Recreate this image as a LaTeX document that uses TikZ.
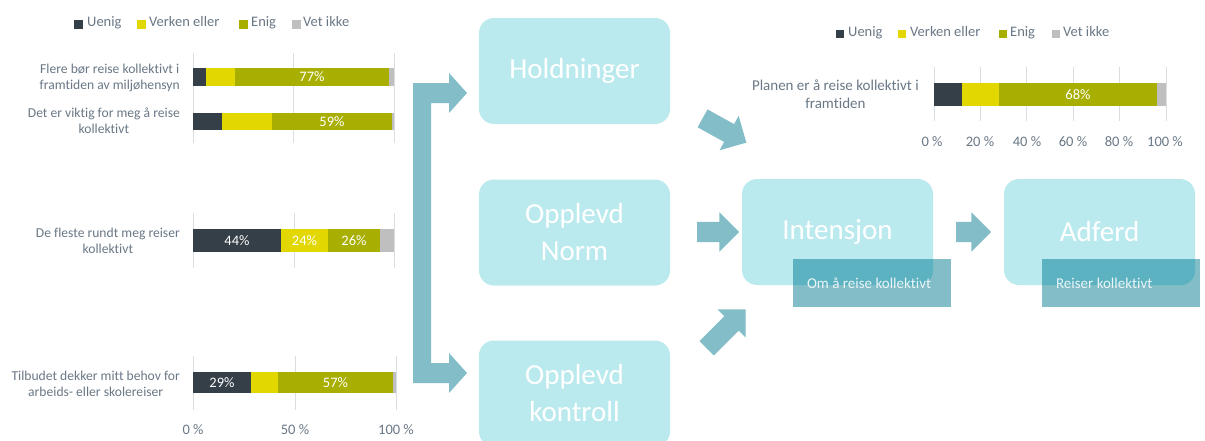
\documentclass[tikz,border=0pt]{standalone}
\usepackage{fontspec}
\setmainfont{Carlito}[Ligatures=NoCommon]
\usepackage{tikz}
\usetikzlibrary{shapes.arrows,positioning}

\definecolor{uenigc}{HTML}{343F48}
\definecolor{verkenc}{HTML}{E2D700}
\definecolor{enigc}{HTML}{A8AF00}
\definecolor{vetc}{HTML}{BFBFBF}
\definecolor{axistext}{HTML}{6A7886}
\definecolor{gridc}{HTML}{D9DEE3}
\definecolor{boxc}{HTML}{BBEAEE}
\definecolor{arrowc}{HTML}{82BDC8}
\definecolor{labeldark}{HTML}{5CB2C0}
\definecolor{labeltext}{HTML}{EAF5F7}

% top, bottom, start, then the right ends of the four parts
\newcommand{\stackbar}[7]{%
  \fill[uenigc] (#3,#1) rectangle (#4,#2);
  \fill[verkenc] (#4,#1) rectangle (#5,#2);
  \fill[enigc] (#5,#1) rectangle (#6,#2);
  \fill[vetc] (#6,#1) rectangle (#7,#2);}

\tikzset{
  cat/.style={font=\fontsize{13.6}{16}\selectfont, text=axistext, align=center, anchor=east, inner sep=0},
  val/.style={font=\fontsize{14.5}{16}\selectfont, text=white, inner sep=0},
  tick/.style={font=\fontsize{14.5}{16}\selectfont, text=axistext, inner sep=0},
  leg/.style={font=\fontsize{14.5}{16}\selectfont, text=axistext, anchor=west, inner sep=0, text height=0.68em, text depth=0.2em},
  legsq/.style={minimum size=8.5, inner sep=0},
  grid line/.style={gridc, line width=1},
  stage/.style={rounded corners=15, fill=boxc, minimum width=191, minimum height=106, inner sep=0,
    text=white, font=\fontsize{29}{37}\selectfont, align=center},
  sublabel/.style={fill=arrowc, minimum width=158, minimum height=48, inner sep=0,
    path picture={\fill[labeldark, rounded corners=15] (#1.south west) rectangle (#1.north east);}},
  subtext/.style={text=labeltext, font=\fontsize{15}{17}\selectfont, inner sep=0, anchor=west},
  blockarrow/.style={single arrow, fill=arrowc, inner xsep=0, inner ysep=10, minimum width=39,
    single arrow head extend=9.5}
}

\begin{document}
\begin{tikzpicture}[x=1pt, y=-1pt]
\clip (0,0) rectangle (1205,440);
\fill[white] (0,0) rectangle (1205,440);

% left chart: legend
\node[legsq, fill=uenigc] (lsq1) at (78.5,24.5) {};
\node[leg] (lleg1) at (87,24.5) {Uenig};
\node[legsq, fill=verkenc] (lsq2) at (141.5,24.5) {};
\node[leg] (lleg2) at (149,24.5) {Verken eller};
\node[legsq, fill=enigc] (lsq3) at (243.5,24.5) {};
\node[leg] (lleg3) at (251,24.5) {Enig};
\node[legsq, fill=vetc] (lsq4) at (296.5,24.5) {};
\node[leg] (lleg4) at (303,24.5) {Vet ikke};

% left chart: grid lines
\foreach \gx in {193,293,394} \draw[grid line] (\gx,53) -- (\gx,143);
\foreach \gx in {193,294,394} \draw[grid line] (\gx,213) -- (\gx,268);
\foreach \gx in {193,295,396} \draw[grid line] (\gx,356) -- (\gx,410);

% left chart: bars
\stackbar{68}{86}{193}{206}{235}{389}{394}
\stackbar{113}{130}{193}{222}{272}{392}{394}
\stackbar{229}{252}{193}{281}{328}{380}{394}
\stackbar{372}{393}{193}{251}{278}{393}{396}

\node[val] (v1) at (312,77) {77\%};
\node[val] (v2) at (332,121.5) {59\%};
\node[val] (v3a) at (237,240.5) {44\%};
\node[val] (v3b) at (304.5,240.5) {24\%};
\node[val] (v3c) at (354,240.5) {26\%};
\node[val] (v4a) at (222,382.5) {29\%};
\node[val] (v4c) at (335.5,382.5) {57\%};

\node[cat] (c1) at (180,77.5) {Flere bør reise kollektivt i\\framtiden av miljøhensyn};
\node[cat] (c2) at (180,121) {Det er viktig for meg å reise\\kollektivt};
\node[cat] (c3) at (180,241) {De fleste rundt meg reiser\\kollektivt};
\node[cat] (c4) at (180,383.5) {Tilbudet dekker mitt behov for\\arbeids- eller skolereiser};

\node[tick] (t0) at (193,430) {0 \%};
\node[tick] (t50) at (295,430) {50 \%};
\node[tick] (t100) at (396,430) {100 \%};

% bracket arrow
\fill[arrowc] (413,83) -- (449,83) -- (449,73) -- (467,93) -- (449,113) -- (449,103)
  -- (431,103) -- (431,363) -- (449,363) -- (449,353) -- (467,373) -- (449,393)
  -- (449,383) -- (413,383) -- cycle;

% stages
\node[stage] (hold) at (574.5,71) {Holdninger};
\node[stage] (norm) at (574.5,232.5) {Opplevd\\Norm};
\node[stage] (kontr) at (574.5,393.5) {Opplevd\\kontroll};
\node[stage] (intens) at (837.5,232) {Intensjon};
\node[stage] (adferd) at (1099.5,232) {Adferd};

\node[sublabel=intens] (omlab) at (872,283) {};
\node[subtext, right=14 of omlab.west] (omtext) {Om å reise kollektivt};
\node[sublabel=adferd] (reiselab) at (1121,283) {};
\node[subtext, right=14 of reiselab.west] (reisetext) {Reiser kollektivt};

% block arrows
\node[blockarrow, minimum height=50, rotate=-29] (a1) at (720,128) {};
\node[blockarrow, minimum height=42] (a2) at (713,232) {};
\node[blockarrow, minimum height=55, rotate=45] (a3) at (722.5,332.5) {};
\node[blockarrow, minimum height=35] (a4) at (968.5,232) {};

% right chart: legend
\node[legsq, fill=uenigc] (rsq1) at (840,34) {};
\node[leg] (rleg1) at (848,34) {Uenig};
\node[legsq, fill=verkenc] (rsq2) at (902,34) {};
\node[leg] (rleg2) at (910,34) {Verken eller};
\node[legsq, fill=enigc] (rsq3) at (1003,34) {};
\node[leg] (rleg3) at (1010,34) {Enig};
\node[legsq, fill=vetc] (rsq4) at (1056,34) {};
\node[leg] (rleg4) at (1063,34) {Vet ikke};

\foreach \gx in {934,980.4,1026.8,1073.2,1119.6,1166} \draw[grid line] (\gx,67) -- (\gx,121);
\stackbar{83}{106}{934}{962}{999}{1157}{1166}
\node[val] (v5) at (1078,94.5) {68\%};
\node[cat, font=\fontsize{15}{18}\selectfont] (c5) at (919,94) {Planen er å reise kollektivt i\\framtiden};

\node[tick] (r0) at (932,142) {0 \%};
\node[tick] (r20) at (980,142) {20 \%};
\node[tick] (r40) at (1027,142) {40 \%};
\node[tick] (r60) at (1073,142) {60 \%};
\node[tick] (r80) at (1119,142) {80 \%};
\node[tick] (r100) at (1165,142) {100 \%};
\end{tikzpicture}
\end{document}
